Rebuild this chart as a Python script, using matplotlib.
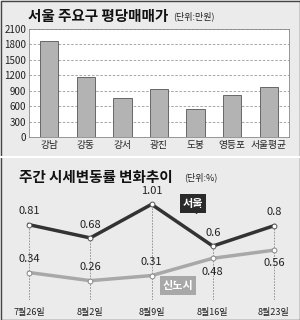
import matplotlib
matplotlib.use("Agg")
import matplotlib.pyplot as plt
from matplotlib.patches import Rectangle

plt.rcParams['font.family'] = ['Noto Sans CJK KR', 'DejaVu Sans']

# top panel data
districts = ["강남", "강동", "강서", "광진", "도봉", "영등포", "서울평균"]
prices = [1867, 1160, 751, 940, 550, 809, 975]
price_ticks = [0, 300, 600, 900, 1200, 1500, 1800, 2100]

# bottom panel data
weeks = ["7월26일", "8월2일", "8월9일", "8월16일", "8월23일"]
seoul = [0.81, 0.68, 1.01, 0.6, 0.8]
newtown = [0.34, 0.26, 0.31, 0.48, 0.56]
seoul_lbl = ["0.81", "0.68", "1.01", "0.6", "0.8"]
newtown_lbl = ["0.34", "0.26", "0.31", "0.48", "0.56"]
newtown_above = [True, True, True, False, False]

W, H = 300, 320
fig = plt.figure(figsize=(3, 3.2), dpi=100)
fig.patch.set_facecolor("#ebebeb")

# outer border and separator
fig.add_artist(Rectangle((0.5 / W, 0.5 / H), 1 - 1 / W, 1 - 1 / H, transform=fig.transFigure,
                         fill=False, edgecolor="#444444", linewidth=1))
fig.add_artist(plt.Line2D([1 / W, 1 - 1 / W], [1 - 157 / H] * 2, transform=fig.transFigure,
                          color="white", linewidth=1.5))

# ---- top bar chart ----
ax1 = fig.add_axes([29 / W, 1 - 137 / H, 260 / W, 108 / H])
ax1.set_facecolor("white")
ax1.bar(range(len(districts)), prices, width=0.5, color="#b3b3b3", edgecolor="#555555",
        linewidth=0.6, zorder=3)
ax1.set_xlim(-0.55, len(districts) - 0.45)
ax1.set_ylim(0, 2100)
ax1.set_yticks(price_ticks)
ax1.set_yticklabels([str(t) for t in price_ticks], fontsize=7, color="#222222")
ax1.set_xticks(range(len(districts)))
ax1.set_xticklabels(districts, fontsize=7, color="#222222")
ax1.tick_params(length=0, pad=2)
ax1.grid(axis="y", linestyle=(0, (3, 2)), color="#999999", linewidth=0.6, zorder=0)
for s in ax1.spines.values():
    s.set_color("#888888")
    s.set_linewidth(0.6)

fig.text(28 / W, 1 - 16 / H, "서울 주요구 평당매매가", fontsize=10.5, fontweight="bold",
         va="center", ha="left", color="#111111")
fig.text(173 / W, 1 - 16 / H, "(단위:만원)", fontsize=6.5, va="center", ha="left",
         color="#222222")

# ---- bottom line chart ----
ax2 = fig.add_axes([10 / W, 1 - 300 / H, 280 / W, 115 / H])
ax2.set_facecolor("none")
ax2.axis("off")
x = list(range(len(weeks)))
ax2.set_xlim(-0.31, 4.26)
ax2.set_ylim(0.07, 1.20)
ax2.vlines(x, 0.07, seoul, colors="#888888", linestyles=(0, (2, 1.5)), linewidth=0.6, zorder=1)
ax2.plot(x, newtown, color="#a8a8a8", linewidth=2.5, zorder=2)
ax2.plot(x, seoul, color="#333333", linewidth=2.5, zorder=3)
ax2.scatter(x, newtown, s=12, facecolor="white", edgecolor="#888888", linewidth=0.7, zorder=4)
ax2.scatter(x, seoul, s=12, facecolor="white", edgecolor="#555555", linewidth=0.7, zorder=4)

for i in x:
    ax2.annotate(seoul_lbl[i], (i, seoul[i]), xytext=(0, 6), textcoords="offset points",
                 ha="center", va="bottom", fontsize=8, color="#222222")
    off = 6 if newtown_above[i] else -6
    ax2.annotate(newtown_lbl[i], (i, newtown[i]), xytext=(0, off), textcoords="offset points",
                 ha="center", va="bottom" if newtown_above[i] else "top", fontsize=8,
                 color="#222222")
    fig.text((29 + i * 61.25) / W, 1 - 313 / H, weeks[i], fontsize=6.5, ha="center",
             va="center", color="#222222")

# series tags with small pointers
ax2.text(2.67, 1.02, "서울", fontsize=8, fontweight="bold", color="white", ha="center",
         va="center", bbox=dict(boxstyle="square,pad=0.25", fc="#2a2a2a", ec="none"), zorder=5)
ax2.plot([2.72], [0.955], marker="v", markersize=5, color="#2a2a2a", zorder=5)
ax2.text(2.43, 0.21, "신도시", fontsize=8, fontweight="bold", color="white", ha="center",
         va="center", bbox=dict(boxstyle="square,pad=0.25", fc="#a8a8a8", ec="none"), zorder=5)
ax2.plot([2.45], [0.275], marker="^", markersize=5, color="#a8a8a8", zorder=5)

fig.text(19 / W, 1 - 177 / H, "주간 시세변동률 변화추이", fontsize=10.5, fontweight="bold",
         va="center", ha="left", color="#111111")
fig.text(184 / W, 1 - 177 / H, "(단위:%)", fontsize=6.5, va="center", ha="left",
         color="#222222")

fig.savefig("out.png", dpi=100, facecolor=fig.get_facecolor())
